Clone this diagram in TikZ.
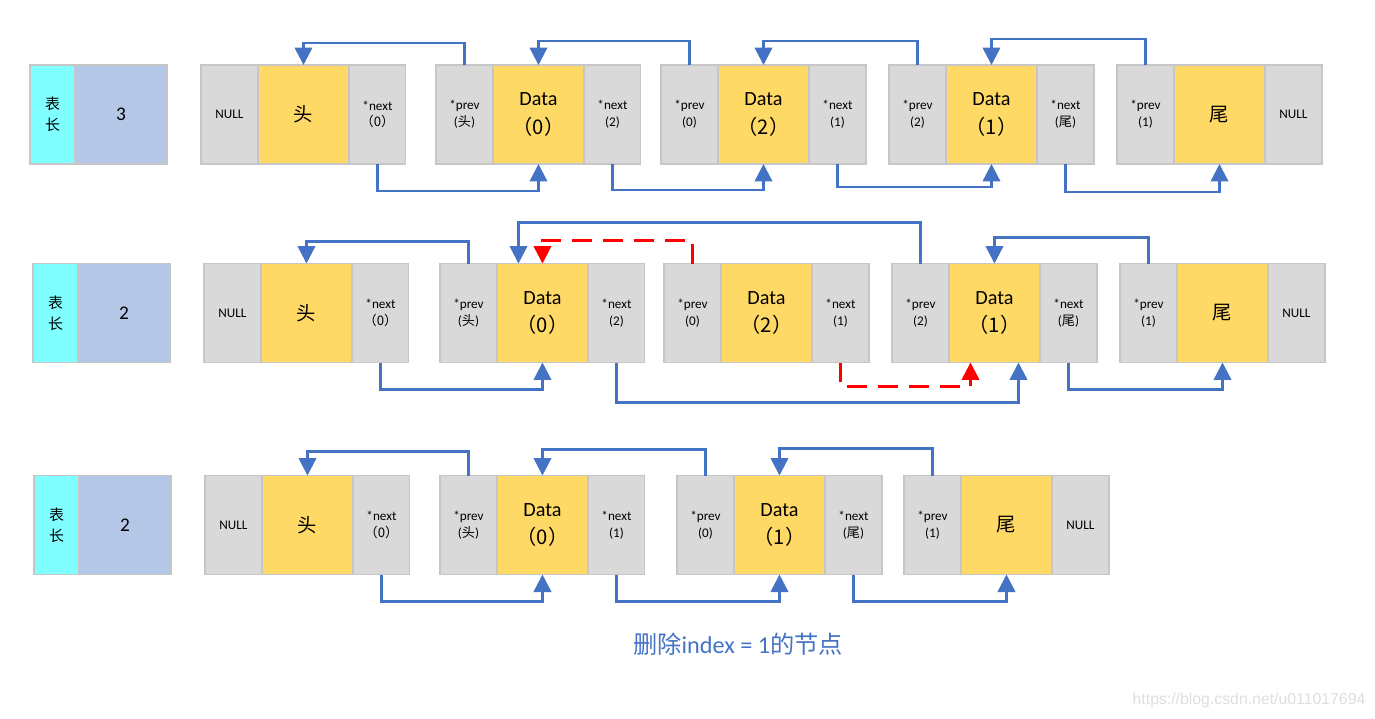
\documentclass[tikz,border=0pt]{standalone}
\usepackage{fontspec}
\setmainfont{Carlito}
\newfontfamily\cjk{Noto Sans CJK SC}
\newfontfamily\urlfont{Liberation Sans}
\usetikzlibrary{positioning,calc,arrows.meta}

\definecolor{cellgray}{HTML}{D9D9D9}
\definecolor{gold}{HTML}{FFD966}
\definecolor{keycyan}{HTML}{7FFFFF}
\definecolor{lenblue}{HTML}{B4C7E7}
\definecolor{boxline}{HTML}{C6C6C6}
\definecolor{linkblue}{HTML}{4472C4}

\tikzset{
    cell/.style={draw=boxline, line width=0.6pt, fill=cellgray, outer sep=0pt,
        minimum height=1.98cm, align=center, inner sep=0pt},
    ptr/.style={cell, minimum width=1.14cm, font=\fontsize{7.5}{9.6}\selectfont},
    dat/.style={cell, fill=gold, minimum width=1.82cm, font=\fontsize{11.5}{16}\selectfont},
    key/.style={cell, fill=keycyan, minimum width=0.9cm, font=\cjk\fontsize{8.5}{12}\selectfont},
    val/.style={cell, fill=lenblue, minimum width=1.84cm, font=\fontsize{11}{13}\selectfont},
    link/.style={draw=linkblue, line width=1.4pt, -{Triangle[length=0.35cm,width=0.35cm]}},
    drop/.style={draw=red, line width=1.4pt, dash pattern=on 0.4cm off 0.22cm,
        -{Triangle[length=0.35cm,width=0.35cm]}},
    caption/.style={text=linkblue, font=\fontsize{13.8}{16}\selectfont},
    wmark/.style={text=black!13, font=\urlfont\fontsize{9}{11}\selectfont}
}

\begin{document}
\begin{tikzpicture}[x=0.02cm, y=-0.02cm]
    \useasboundingbox (0,0) rectangle (1375,718);

    % row 1: before
    \node[key, anchor=west] (r1k) at (30,114.5) {表\\长};
    \node[val, right=0pt of r1k] (r1v) {3};

    \node[ptr, anchor=west] (r1hp) at (201,114.5) {NULL};
    \node[dat, right=0pt of r1hp] (r1hd) {\cjk\fontsize{11}{13}\selectfont 头};
    \node[ptr, right=0pt of r1hd] (r1hn) {*next\\{\cjk （0）}};

    \node[ptr, anchor=west] (r1ap) at (436,114.5) {*prev\\({\cjk 头})};
    \node[dat, right=0pt of r1ap] (r1ad) {Data\\{\cjk （0）}};
    \node[ptr, right=0pt of r1ad] (r1an) {*next\\(2)};

    \node[ptr, anchor=west] (r1bp) at (661,114.5) {*prev\\(0)};
    \node[dat, right=0pt of r1bp] (r1bd) {Data\\{\cjk （2）}};
    \node[ptr, right=0pt of r1bd] (r1bn) {*next\\(1)};

    \node[ptr, anchor=west] (r1cp) at (889,114.5) {*prev\\(2)};
    \node[dat, right=0pt of r1cp] (r1cd) {Data\\{\cjk （1）}};
    \node[ptr, right=0pt of r1cd] (r1cn) {*next\\({\cjk 尾})};

    \node[ptr, anchor=west] (r1tp) at (1117,114.5) {*prev\\(1)};
    \node[dat, right=0pt of r1tp] (r1td) {\cjk\fontsize{11}{13}\selectfont 尾};
    \node[ptr, right=0pt of r1td] (r1tn) {NULL};

    \draw[link] (r1ap.north) -- ++(0,-22) -| (r1hd.north);
    \draw[link] (r1bp.north) -- ++(0,-24) -| (r1ad.north);
    \draw[link] (r1cp.north) -- ++(0,-24) -| (r1bd.north);
    \draw[link] (r1tp.north) -- ++(0,-26) -| (r1cd.north);
    \draw[link] (r1hn.south) -- ++(0,27) -| (r1ad.south);
    \draw[link] (r1an.south) -- ++(0,26) -| (r1bd.south);
    \draw[link] (r1bn.south) -- ++(0,23) -| (r1cd.south);
    \draw[link] (r1cn.south) -- ++(0,28) -| (r1td.south);

    % row 2: relinking
    \node[key, anchor=west] (r2k) at (33,313) {表\\长};
    \node[val, right=0pt of r2k] (r2v) {2};

    \node[ptr, anchor=west] (r2hp) at (204,313) {NULL};
    \node[dat, right=0pt of r2hp] (r2hd) {\cjk\fontsize{11}{13}\selectfont 头};
    \node[ptr, right=0pt of r2hd] (r2hn) {*next\\{\cjk （0）}};

    \node[ptr, anchor=west] (r2ap) at (440,313) {*prev\\({\cjk 头})};
    \node[dat, right=0pt of r2ap] (r2ad) {Data\\{\cjk （0）}};
    \node[ptr, right=0pt of r2ad] (r2an) {*next\\(2)};

    \node[ptr, anchor=west] (r2bp) at (664,313) {*prev\\(0)};
    \node[dat, right=0pt of r2bp] (r2bd) {Data\\{\cjk （2）}};
    \node[ptr, right=0pt of r2bd] (r2bn) {*next\\(1)};

    \node[ptr, anchor=west] (r2cp) at (892,313) {*prev\\(2)};
    \node[dat, right=0pt of r2cp] (r2cd) {Data\\{\cjk （1）}};
    \node[ptr, right=0pt of r2cd] (r2cn) {*next\\({\cjk 尾})};

    \node[ptr, anchor=west] (r2tp) at (1120,313) {*prev\\(1)};
    \node[dat, right=0pt of r2tp] (r2td) {\cjk\fontsize{11}{13}\selectfont 尾};
    \node[ptr, right=0pt of r2td] (r2tn) {NULL};

    \draw[link] (r2ap.north) -- ++(0,-22) -| (r2hd.north);
    \draw[link] (r2cp.north) -- ++(0,-41) -| ($(r2ad.north)+(-24,0)$);
    \draw[drop] (r2bp.north) -- ++(0,-23) -| (r2ad.north);
    \draw[link] (r2tp.north) -- ++(0,-26) -| (r2cd.north);
    \draw[link] (r2hn.south) -- ++(0,27) -| (r2ad.south);
    \draw[link] (r2an.south) -- ++(0,40) -| ($(r2cd.south)+(24,0)$);
    \draw[drop] (r2bn.south) -- ++(0,24) -| ($(r2cd.south)+(-24,0)$);
    \draw[link] (r2cn.south) -- ++(0,27) -| (r2td.south);

    % row 3: after
    \node[key, anchor=west] (r3k) at (34,525) {表\\长};
    \node[val, right=0pt of r3k] (r3v) {2};

    \node[ptr, anchor=west] (r3hp) at (205,525) {NULL};
    \node[dat, right=0pt of r3hp] (r3hd) {\cjk\fontsize{11}{13}\selectfont 头};
    \node[ptr, right=0pt of r3hd] (r3hn) {*next\\{\cjk （0）}};

    \node[ptr, anchor=west] (r3ap) at (440,525) {*prev\\({\cjk 头})};
    \node[dat, right=0pt of r3ap] (r3ad) {Data\\{\cjk （0）}};
    \node[ptr, right=0pt of r3ad] (r3an) {*next\\(1)};

    \node[ptr, anchor=west] (r3cp) at (677,525) {*prev\\(0)};
    \node[dat, right=0pt of r3cp] (r3cd) {Data\\{\cjk （1）}};
    \node[ptr, right=0pt of r3cd] (r3cn) {*next\\({\cjk 尾})};

    \node[ptr, anchor=west] (r3tp) at (904,525) {*prev\\(1)};
    \node[dat, right=0pt of r3tp] (r3td) {\cjk\fontsize{11}{13}\selectfont 尾};
    \node[ptr, right=0pt of r3td] (r3tn) {NULL};

    \draw[link] (r3ap.north) -- ++(0,-24) -| (r3hd.north);
    \draw[link] (r3cp.north) -- ++(0,-26) -| (r3ad.north);
    \draw[link] (r3tp.north) -- ++(0,-27) -| (r3cd.north);
    \draw[link] (r3hn.south) -- ++(0,27) -| (r3ad.south);
    \draw[link] (r3an.south) -- ++(0,27) -| (r3cd.south);
    \draw[link] (r3cn.south) -- ++(0,27) -| (r3td.south);

    \node[caption] (note) at (738,644) {{\cjk 删除}index = 1{\cjk 的节点}};
    \node[wmark] (url) at (1249,700) {https://blog.csdn.net/u011017694};
\end{tikzpicture}
\end{document}
